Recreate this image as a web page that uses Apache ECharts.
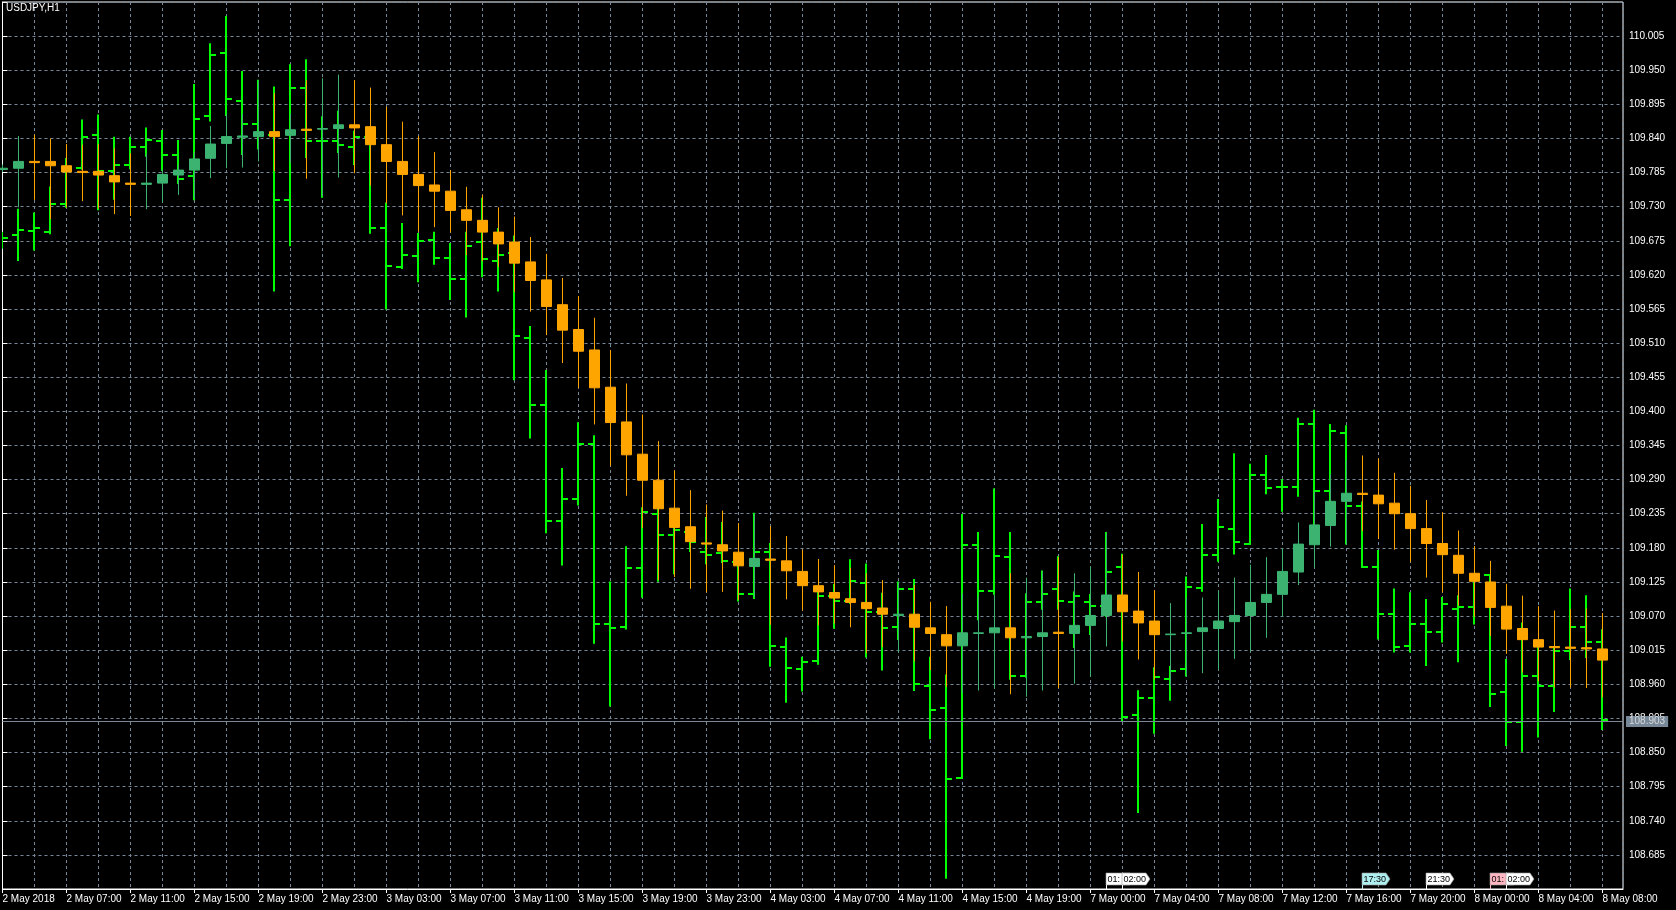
<!DOCTYPE html>
<html>
<head>
<meta charset="utf-8">
<script src="https://cdn.jsdelivr.net/npm/echarts@6/dist/echarts.min.js"></script>
<style>
html,body{margin:0;padding:0;background:#000;}
#c{width:1676px;height:910px;}
</style>
</head>
<body>
<div id="c"></div>
<script>
const symbolName = 'USDJPY,H1';

// x tick labels, one every 4 hourly bars (bar 0, 4, 8, ... 100)
const xTickLabels = ['2 May 2018','2 May 07:00','2 May 11:00','2 May 15:00','2 May 19:00','2 May 23:00',
  '3 May 03:00','3 May 07:00','3 May 11:00','3 May 15:00','3 May 19:00','3 May 23:00',
  '4 May 03:00','4 May 07:00','4 May 11:00','4 May 15:00','4 May 19:00',
  '7 May 00:00','7 May 04:00','7 May 08:00','7 May 12:00','7 May 16:00','7 May 20:00',
  '8 May 00:00','8 May 04:00','8 May 08:00'];

// y tick labels
const yTickLabels = ['108.685','108.740','108.795','108.850','108.905','108.960','109.015','109.070','109.125',
  '109.180','109.235','109.290','109.345','109.400','109.455','109.510','109.565','109.620','109.675',
  '109.730','109.785','109.840','109.895','109.950','110.005'];

// Candles (USDJPY H1)
const candleOpen = [109.790,109.792,109.803,109.803,109.796,109.787,109.787,109.780,109.768,109.766,
  109.768,109.781,109.789,109.808,109.832,109.842,109.843,109.851,109.845,109.855,
  109.855,109.856,109.862,109.859,109.830,109.803,109.782,109.765,109.755,109.725,
  109.708,109.689,109.673,109.641,109.612,109.572,109.532,109.499,109.439,109.383,
  109.331,109.289,109.244,109.214,109.188,109.185,109.173,109.150,109.162,109.159,
  109.142,109.119,109.108,109.098,109.092,109.083,109.071,109.073,109.051,109.040,
  109.022,109.042,109.043,109.051,109.035,109.037,109.044,109.042,109.055,109.071,
  109.104,109.078,109.062,109.040,109.042,109.045,109.050,109.061,109.071,109.092,
  109.105,109.141,109.185,109.216,109.255,109.268,109.265,109.252,109.235,109.211,
  109.187,109.168,109.139,109.125,109.086,109.050,109.032,109.021,109.020,109.019,
  109.017];
const candleHigh = [109.798,109.844,109.846,109.840,109.831,109.830,109.831,109.824,109.816,109.816,
  109.790,109.798,109.818,109.860,109.879,109.880,109.933,109.913,109.880,109.934,
  109.937,109.943,109.934,109.922,109.891,109.867,109.844,109.818,109.789,109.762,
  109.749,109.729,109.714,109.681,109.654,109.615,109.586,109.551,109.499,109.445,
  109.395,109.352,109.305,109.273,109.250,109.240,109.220,109.235,109.215,109.199,
  109.177,109.162,109.152,109.148,109.139,109.128,109.124,109.120,109.093,109.086,
  109.107,109.102,109.104,109.139,109.132,109.142,109.165,109.139,109.150,109.204,
  109.169,109.141,109.112,109.091,109.100,109.100,109.111,109.132,109.153,109.165,
  109.179,109.221,109.271,109.299,109.322,109.329,109.324,109.301,109.280,109.257,
  109.237,109.208,109.183,109.159,109.122,109.103,109.086,109.079,109.081,109.082,
  109.075];
const candleLow = [109.786,109.729,109.741,109.710,109.729,109.739,109.727,109.718,109.715,109.726,
  109.737,109.749,109.743,109.776,109.792,109.793,109.803,109.787,109.800,109.775,
  109.747,109.777,109.784,109.764,109.735,109.716,109.690,109.697,109.688,109.652,
  109.642,109.633,109.592,109.561,109.523,109.478,109.438,109.379,109.312,109.264,
  109.212,109.128,109.133,109.114,109.108,109.109,109.096,109.100,109.056,109.097,
  109.079,109.055,109.058,109.052,109.010,109.020,109.012,108.997,108.983,108.956,
  108.946,108.950,108.953,108.944,108.940,108.950,108.954,108.961,108.972,109.021,
  109.029,109.000,108.968,108.956,108.974,108.978,108.983,109.001,109.013,109.035,
  109.069,109.120,109.148,109.182,109.186,109.207,109.194,109.177,109.157,109.132,
  109.108,109.087,109.069,109.038,109.009,108.979,108.965,108.955,108.955,108.954,
  108.939];
const candleClose = [109.792,109.803,109.801,109.796,109.786,109.785,109.781,109.770,109.766,109.768,
  109.782,109.789,109.807,109.831,109.843,109.844,109.851,109.843,109.854,109.853,
  109.856,109.862,109.857,109.830,109.803,109.782,109.764,109.755,109.724,109.708,
  109.689,109.670,109.639,109.611,109.569,109.531,109.497,109.438,109.382,109.330,
  109.289,109.243,109.213,109.190,109.186,109.175,109.151,109.163,109.160,109.143,
  109.119,109.109,109.099,109.092,109.082,109.073,109.073,109.052,109.042,109.022,
  109.043,109.043,109.051,109.035,109.037,109.043,109.042,109.055,109.071,109.104,
  109.077,109.059,109.040,109.041,109.043,109.051,109.062,109.071,109.092,109.105,
  109.142,109.186,109.217,109.255,109.268,109.266,109.251,109.235,109.211,109.187,
  109.169,109.139,109.126,109.084,109.049,109.032,109.020,109.019,109.018,109.017,
  108.999];

// Overlay OHLC bars (lime)
const barOpen = [109.676,109.684,109.691,109.690,109.734,109.792,109.845,109.788,109.798,109.826,
  109.836,109.813,109.780,109.877,109.977,109.901,109.863,109.846,109.741,109.922,
  109.836,109.836,109.826,109.842,109.695,109.632,109.651,109.676,109.648,109.614,
  109.673,109.643,109.656,109.519,109.411,109.223,109.258,109.347,109.057,109.052,
  109.148,109.235,109.201,109.206,109.173,109.172,109.157,109.106,109.173,109.020,
  108.985,108.998,109.102,109.095,109.124,109.076,109.052,109.114,108.957,108.921,
  108.809,109.185,109.111,109.165,108.973,109.093,109.114,109.093,109.093,109.087,
  109.149,108.911,108.938,108.969,108.985,109.115,109.169,109.211,109.186,109.298,
  109.278,109.278,109.380,109.271,109.365,109.247,109.149,109.073,109.021,109.057,
  109.044,109.081,109.085,109.136,108.947,108.900,108.973,108.957,109.014,109.053,
  109.029];
const barHigh = [109.688,109.725,109.719,109.761,109.807,109.869,109.877,109.841,109.841,109.856,
  109.852,109.836,109.926,109.992,110.036,109.947,109.933,109.922,109.958,109.966,
  109.874,109.883,109.851,109.844,109.735,109.702,109.686,109.688,109.670,109.688,
  109.743,109.694,109.682,109.536,109.465,109.307,109.381,109.360,109.124,109.181,
  109.244,109.244,109.212,109.212,109.228,109.220,109.162,109.235,109.186,109.034,
  109.003,109.111,109.120,109.160,109.153,109.106,109.124,109.128,109.003,108.974,
  109.233,109.204,109.274,109.204,109.105,109.142,109.165,109.108,109.104,109.204,
  109.169,108.949,108.986,108.988,109.132,109.217,109.257,109.331,109.314,109.328,
  109.289,109.388,109.401,109.378,109.376,109.253,109.175,109.113,109.107,109.096,
  109.099,109.102,109.136,109.136,108.999,109.058,109.019,109.019,109.113,109.102,
  109.047];
const barLow = [109.664,109.644,109.661,109.687,109.730,109.791,109.726,109.743,109.792,109.812,
  109.789,109.768,109.742,109.869,109.878,109.815,109.824,109.595,109.668,109.810,
  109.746,109.818,109.799,109.688,109.566,109.631,109.610,109.638,109.581,109.553,
  109.618,109.595,109.452,109.358,109.205,109.153,109.250,109.027,108.926,109.050,
  109.101,109.127,109.139,109.175,109.155,109.157,109.095,109.099,108.990,108.932,
  108.950,108.993,109.051,109.091,109.005,108.984,109.033,108.951,108.873,108.648,
  108.809,109.065,109.106,108.969,108.972,109.082,109.082,109.020,109.041,109.070,
  108.901,108.754,108.882,108.935,108.974,109.111,109.159,109.171,109.186,109.268,
  109.240,109.264,109.217,109.255,109.187,109.149,109.034,109.013,109.013,108.991,
  109.029,108.997,109.058,108.925,108.862,108.853,108.876,108.917,109.001,109.004,
  108.888];
const barClose = [109.680,109.693,109.696,109.735,109.792,109.843,109.788,109.798,109.826,109.838,
  109.813,109.774,109.872,109.975,109.903,109.863,109.845,109.741,109.922,109.836,
  109.836,109.830,109.842,109.696,109.634,109.652,109.675,109.648,109.614,109.667,
  109.645,109.652,109.521,109.411,109.223,109.258,109.347,109.057,109.050,109.148,
  109.237,109.201,109.208,109.189,109.169,109.159,109.106,109.173,109.022,108.986,
  108.996,109.103,109.095,109.126,109.077,109.050,109.114,108.960,108.919,108.807,
  109.185,109.111,109.167,108.973,109.093,109.106,109.095,109.103,109.087,109.141,
  108.907,108.938,108.971,108.982,109.117,109.169,109.214,109.190,109.298,109.277,
  109.278,109.380,109.272,109.368,109.247,109.149,109.073,109.020,109.057,109.044,
  109.090,109.084,109.136,108.945,108.900,108.973,108.957,109.014,109.053,109.029,
  108.903];

const currentPrice = 108.903;

// Event markers on the time axis (bar index, text, colour)
const eventBars  = [69, 70, 85, 89, 93, 94];
const eventTexts = ['01:', '02:00', '17:30', '21:30', '01:', '02:00'];
const eventFills = ['#ffffff', '#ffffff', '#afeeee', '#ffffff', '#ffb6c1', '#ffffff'];

const yMin = 108.63, yMax = 110.06, yStep = 0.055;
const xMin = 0, xMax = 101.28;

const FONT = "'Liberation Sans', Arial, sans-serif";
const GRID = '#778899';

const chart = echarts.init(document.getElementById('c'), null, {renderer: 'canvas', width: 1676, height: 910});

const candleData = candleOpen.map((o, i) => [i, o, candleClose[i], candleLow[i], candleHigh[i]]);
const barData = barOpen.map((o, i) => [i, o, barHigh[i], barLow[i], barClose[i]]);
const ySet = new Set(yTickLabels);

function renderBar(params, api) {
  const x = api.value(0);
  const pO = api.coord([x, api.value(1)]);
  const pH = api.coord([x, api.value(2)]);
  const pL = api.coord([x, api.value(3)]);
  const pC = api.coord([x, api.value(4)]);
  const xl = Math.floor(pO[0]);
  const tick = api.size([1, 0])[0] * 0.375;
  const st = {stroke: '#00ff00', lineWidth: 2};
  return {
    type: 'group',
    children: [
      {type: 'line', shape: {x1: xl, y1: pH[1] - 1, x2: xl, y2: pL[1] + 1}, style: st},
      {type: 'line', shape: {x1: xl - tick, y1: Math.round(pO[1]), x2: xl, y2: Math.round(pO[1])}, style: st},
      {type: 'line', shape: {x1: xl, y1: Math.round(pC[1]), x2: xl + tick, y2: Math.round(pC[1])}, style: st}
    ]
  };
}

const option = {
  animation: false,
  backgroundColor: '#000000',
  textStyle: {fontFamily: FONT},
  title: {
    text: symbolName, left: 6, top: 3, padding: 0,
    textStyle: {color: '#ffffff', fontSize: 10, fontWeight: 'normal', fontFamily: FONT}
  },
  grid: {
    left: 2.5, top: 2, right: 53, bottom: 21,
    show: true, borderColor: '#ffffff', borderWidth: 1, backgroundColor: '#000000',
    containLabel: false, outerBoundsMode: 'none'
  },
  xAxis: [
    {
      type: 'value', min: xMin, max: xMax, interval: 2,
      axisLine: {show: false}, axisTick: {show: false}, axisLabel: {show: false},
      splitLine: {show: true, lineStyle: {color: GRID, type: [3, 3], width: 1}}
    },
    {
      type: 'value', min: xMin, max: xMax, interval: 4, position: 'bottom',
      axisLine: {show: true, lineStyle: {color: '#ffffff', width: 1}},
      axisTick: {show: true, length: 4, lineStyle: {color: '#ffffff'}},
      splitLine: {show: false},
      axisLabel: {
        show: true, color: '#ffffff', fontSize: 10, fontFamily: FONT, align: 'left', margin: 5,
        showMinLabel: true, showMaxLabel: false, hideOverlap: false,
        formatter: function (v) {
          const k = Math.round(v / 4);
          if (Math.abs(v - k * 4) > 1e-6) return '';
          return xTickLabels[k] || '';
        }
      }
    }
  ],
  yAxis: {
    type: 'value', position: 'right', min: yMin, max: yMax, interval: yStep,
    axisLine: {show: true, lineStyle: {color: '#ffffff', width: 1}},
    axisTick: {show: true, length: 5, lineStyle: {color: '#ffffff'}},
    axisLabel: {
      color: '#ffffff', fontSize: 10, fontFamily: FONT, margin: 6, hideOverlap: false,
      formatter: function (v) { const s = v.toFixed(3); return ySet.has(s) ? s : ''; }
    },
    splitLine: {show: true, lineStyle: {color: GRID, type: [3, 3], width: 1}}
  },
  series: [
    {
      type: 'custom', name: 'OHLC', xAxisIndex: 0, yAxisIndex: 0, z: 2, clip: true,
      data: barData, renderItem: renderBar,
      encode: {x: 0, y: [1, 2, 3, 4]}
    },
    {
      type: 'candlestick', name: symbolName, xAxisIndex: 0, yAxisIndex: 0, z: 3,
      data: candleData, barWidth: 10,
      encode: {x: 0, y: [1, 2, 3, 4]},
      itemStyle: {
        color: '#3cb371', color0: '#ffa500',
        borderColor: '#3cb371', borderColor0: '#ffa500', borderWidth: 1
      },
      markLine: {
        silent: true, symbol: ['none', 'none'], animation: false,
        lineStyle: {color: GRID, width: 1, type: 'solid'},
        label: {
          show: true, position: 'end', distance: 3,
          formatter: currentPrice.toFixed(3),
          color: '#d8d8d8', backgroundColor: GRID, padding: [1, 3, 0, 3],
          fontSize: 10, fontFamily: FONT
        },
        data: [{yAxis: currentPrice}]
      }
    }
  ]
};

chart.setOption(option);

// event boxes sitting on the time axis
const baseY = chart.convertToPixel({yAxisIndex: 0}, yMin);
const gfx = [];
eventBars.forEach(function (b, k) {
  const x = Math.round(chart.convertToPixel({xAxisIndex: 0}, b) - 0.5);
  const h = 12, top = baseY - 16, w = 28;
  gfx.push({
    type: 'polygon', z: 100,
    shape: {points: [[x, top], [x + w - 4, top], [x + w, top + h / 2], [x + w - 4, top + h], [x, top + h]]},
    style: {fill: eventFills[k], stroke: '#9a9a9a', lineWidth: 0.6}
  });
  gfx.push({
    type: 'line', z: 100,
    shape: {x1: x + 0.5, y1: top + h, x2: x + 0.5, y2: baseY},
    style: {stroke: eventFills[k], lineWidth: 1}
  });
  gfx.push({
    type: 'text', z: 101, x: x + 1.5, y: top + h / 2 + 0.5,
    style: {text: eventTexts[k], fill: '#000000', font: '9px ' + FONT, verticalAlign: 'middle', align: 'left'}
  });
});
chart.setOption({graphic: gfx});
</script>
</body>
</html>
